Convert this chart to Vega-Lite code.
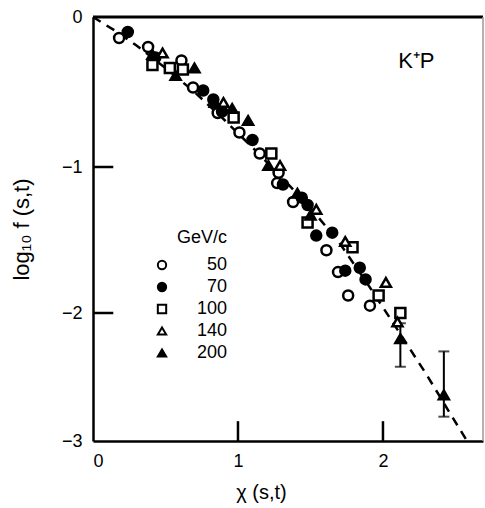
{
  "$schema": "https://vega.github.io/schema/vega-lite/v6.json",
  "width": 390,
  "height": 424,
  "autosize": {"type": "none"},
  "padding": {"left": 93, "top": 17, "right": 2, "bottom": 67},
  "background": "white",
  "config": {
    "font": "Liberation Sans",
    "view": {"stroke": null},
    "axis": {
      "domainColor": "black",
      "domainWidth": 2.5,
      "ticks": false,
      "labelFontSize": 18,
      "labelColor": "black",
      "titleColor": "black",
      "titleFontWeight": "normal",
      "grid": false
    }
  },
  "datasets": {
    "points": [
      {"p": "50", "chi": 0.18, "logf": -0.14},
      {"p": "50", "chi": 0.38, "logf": -0.20},
      {"p": "50", "chi": 0.61, "logf": -0.29},
      {"p": "50", "chi": 0.69, "logf": -0.47},
      {"p": "50", "chi": 0.86, "logf": -0.64},
      {"p": "50", "chi": 1.01, "logf": -0.77},
      {"p": "50", "chi": 1.15, "logf": -0.91},
      {"p": "50", "chi": 1.28, "logf": -1.04},
      {"p": "50", "chi": 1.27, "logf": -1.11},
      {"p": "50", "chi": 1.38, "logf": -1.24},
      {"p": "50", "chi": 1.61, "logf": -1.57},
      {"p": "50", "chi": 1.69, "logf": -1.72},
      {"p": "50", "chi": 1.76, "logf": -1.88},
      {"p": "50", "chi": 1.91, "logf": -1.95},
      {"p": "70", "chi": 0.24, "logf": -0.10},
      {"p": "70", "chi": 0.43, "logf": -0.27},
      {"p": "70", "chi": 0.76, "logf": -0.49},
      {"p": "70", "chi": 0.83, "logf": -0.55},
      {"p": "70", "chi": 0.89, "logf": -0.63},
      {"p": "70", "chi": 1.10, "logf": -0.82},
      {"p": "70", "chi": 1.31, "logf": -1.12},
      {"p": "70", "chi": 1.44, "logf": -1.21},
      {"p": "70", "chi": 1.48, "logf": -1.26},
      {"p": "70", "chi": 1.54, "logf": -1.47},
      {"p": "70", "chi": 1.65, "logf": -1.45},
      {"p": "70", "chi": 1.74, "logf": -1.71},
      {"p": "70", "chi": 1.84, "logf": -1.69},
      {"p": "70", "chi": 1.88, "logf": -1.77},
      {"p": "100", "chi": 0.41, "logf": -0.32},
      {"p": "100", "chi": 0.53, "logf": -0.34},
      {"p": "100", "chi": 0.62, "logf": -0.35},
      {"p": "100", "chi": 0.97, "logf": -0.67},
      {"p": "100", "chi": 1.23, "logf": -0.91},
      {"p": "100", "chi": 1.48, "logf": -1.38},
      {"p": "100", "chi": 1.79, "logf": -1.55},
      {"p": "100", "chi": 1.97, "logf": -1.88},
      {"p": "100", "chi": 2.12, "logf": -2.00},
      {"p": "140", "chi": 0.48, "logf": -0.24},
      {"p": "140", "chi": 0.90, "logf": -0.57},
      {"p": "140", "chi": 1.29, "logf": -0.99},
      {"p": "140", "chi": 1.54, "logf": -1.29},
      {"p": "140", "chi": 1.74, "logf": -1.51},
      {"p": "140", "chi": 2.02, "logf": -1.79},
      {"p": "140", "chi": 2.10, "logf": -2.07},
      {"p": "200", "chi": 0.41, "logf": -0.25},
      {"p": "200", "chi": 0.57, "logf": -0.39},
      {"p": "200", "chi": 0.70, "logf": -0.34},
      {"p": "200", "chi": 0.84, "logf": -0.57},
      {"p": "200", "chi": 0.96, "logf": -0.61},
      {"p": "200", "chi": 1.07, "logf": -0.69},
      {"p": "200", "chi": 1.21, "logf": -0.99},
      {"p": "200", "chi": 1.41, "logf": -1.18},
      {"p": "200", "chi": 1.50, "logf": -1.33},
      {"p": "200", "chi": 2.12, "logf": -2.20},
      {"p": "200", "chi": 2.42, "logf": -2.64}
    ],
    "errors": [
      {"chi": 2.12, "lo": -2.42, "hi": -2.08},
      {"chi": 2.42, "lo": -2.81, "hi": -2.30}
    ],
    "curve": [
      {"chi": 0.0, "logf": 0.0},
      {"chi": 0.15, "logf": -0.09},
      {"chi": 0.3, "logf": -0.19},
      {"chi": 0.5, "logf": -0.34},
      {"chi": 0.7, "logf": -0.50},
      {"chi": 0.9, "logf": -0.68},
      {"chi": 1.1, "logf": -0.87},
      {"chi": 1.3, "logf": -1.07},
      {"chi": 1.5, "logf": -1.28},
      {"chi": 1.7, "logf": -1.52},
      {"chi": 1.9, "logf": -1.81},
      {"chi": 2.1, "logf": -2.13},
      {"chi": 2.3, "logf": -2.48},
      {"chi": 2.45, "logf": -2.76},
      {"chi": 2.58, "logf": -3.0}
    ],
    "one": [{}],
    "yticks": [{"v": -1}, {"v": -2}],
    "xticks": [{"v": 1}, {"v": 2}]
  },
  "encoding": {
    "x": {
      "type": "quantitative",
      "scale": {"domain": [0, 2.69], "nice": false, "zero": false},
      "axis": {
        "values": [0, 1, 2],
        "format": "d",
        "labelPadding": 11,
        "title": "χ (s,t)",
        "titleFontSize": 20,
        "titlePadding": 12,
        "titleX": 168
      }
    },
    "y": {
      "type": "quantitative",
      "scale": {"domain": [-3, -2, -1, 0], "range": [424, 296, 150, 0], "nice": false, "zero": false},
      "axis": {
        "values": [-3, -2, -1, 0],
        "format": "d",
        "labelPadding": 11,
        "title": "log₁₀ f (s,t)",
        "titleFontSize": 22,
        "titlePadding": 28
      }
    }
  },
  "layer": [
    {
      "data": {"name": "curve"},
      "mark": {"type": "line", "color": "black", "strokeWidth": 2.5, "strokeDash": [9, 7]},
      "encoding": {
        "x": {"field": "chi", "type": "quantitative"},
        "y": {"field": "logf", "type": "quantitative"}
      }
    },
    {
      "data": {"name": "errors"},
      "mark": {"type": "rule", "color": "black", "strokeWidth": 2},
      "encoding": {
        "x": {"field": "chi", "type": "quantitative"},
        "y": {"field": "lo", "type": "quantitative"},
        "y2": {"field": "hi"}
      }
    },
    {
      "data": {"name": "errors"},
      "mark": {"type": "tick", "orient": "horizontal", "color": "black", "size": 11, "thickness": 2},
      "encoding": {
        "x": {"field": "chi", "type": "quantitative"},
        "y": {"field": "lo", "type": "quantitative"}
      }
    },
    {
      "data": {"name": "errors"},
      "mark": {"type": "tick", "orient": "horizontal", "color": "black", "size": 11, "thickness": 2},
      "encoding": {
        "x": {"field": "chi", "type": "quantitative"},
        "y": {"field": "hi", "type": "quantitative"}
      }
    },
    {
      "data": {"name": "points"},
      "mark": {"type": "point", "strokeWidth": 2.5, "size": 100, "opacity": 1},
      "encoding": {
        "x": {"field": "chi", "type": "quantitative"},
        "y": {"field": "logf", "type": "quantitative"},
        "shape": {
          "field": "p",
          "type": "nominal",
          "scale": {"domain": ["50", "70", "100", "140", "200"], "range": ["circle", "circle", "square", "triangle-up", "triangle-up"]},
          "legend": {
            "title": "GeV/c",
            "orient": "none",
            "legendX": 60,
            "legendY": 212,
            "padding": 0,
            "titleFontSize": 18,
            "titleFontWeight": "normal",
            "titleColor": "black",
            "titleAnchor": "end",
            "titlePadding": 9,
            "labelFontSize": 18,
            "labelColor": "black",
            "labelAlign": "right",
            "labelOffset": 56,
            "rowPadding": 4,
            "symbolSize": 70,
            "symbolStrokeWidth": 2
          }
        },
        "fill": {
          "field": "p",
          "type": "nominal",
          "scale": {"domain": ["50", "70", "100", "140", "200"], "range": ["white", "black", "white", "white", "black"]}
        },
        "stroke": {
          "field": "p",
          "type": "nominal",
          "scale": {"domain": ["50", "70", "100", "140", "200"], "range": ["black", "black", "black", "black", "black"]}
        }
      }
    },
    {
      "data": {"name": "one"},
      "mark": {"type": "text", "text": "K⁺P", "fontSize": 22, "color": "black", "align": "center", "baseline": "middle"},
      "encoding": {"x": {"datum": 2.23}, "y": {"datum": -0.29}}
    },
    {
      "data": {"name": "one"},
      "mark": {"type": "rule", "color": "black", "strokeWidth": 3},
      "encoding": {"x": {"datum": 0}, "x2": {"datum": 2.69}, "y": {"datum": 0}}
    },
    {
      "data": {"name": "one"},
      "mark": {"type": "rule", "color": "#999999", "strokeWidth": 1.5},
      "encoding": {"x": {"datum": 2.69}, "y": {"datum": -3}, "y2": {"datum": 0}}
    },
    {
      "data": {"name": "yticks"},
      "mark": {"type": "rule", "color": "black", "strokeWidth": 2.5},
      "encoding": {"x": {"datum": 0}, "x2": {"datum": 0.14}, "y": {"field": "v", "type": "quantitative"}}
    },
    {
      "data": {"name": "xticks"},
      "mark": {"type": "rule", "color": "black", "strokeWidth": 2.5},
      "encoding": {"x": {"field": "v", "type": "quantitative"}, "y": {"datum": -3}, "y2": {"datum": -2.845}}
    }
  ]
}
